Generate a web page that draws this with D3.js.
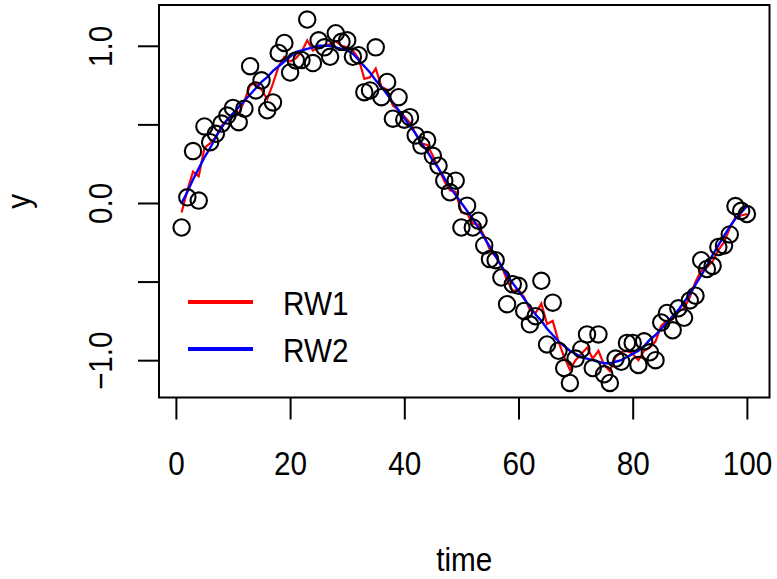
<!DOCTYPE html>
<html lang="en">
<head>
    <meta charset="UTF-8">
    <title>RW1 vs RW2 smoothing</title>
    <script src="https://d3js.org/d3.v7.min.js"></script>
    <style>
        body {
            margin: 0;
            padding: 0;
            background-color: white;
        }
        svg text {
            font-family: "Liberation Sans", Arial, Helvetica, sans-serif;
        }
    </style>
</head>
<body>
    <div id="chart"></div>
    <script>
        const width = 777;
        const height = 579;

        // observed values, time = 1..100
        const obs = [
            -0.156, 0.036, 0.33, 0.015, 0.487, 0.387, 0.44, 0.505, 0.556, 0.605,
            0.514, 0.60, 0.87, 0.716, 0.78, 0.59, 0.64, 0.954, 1.018, 0.83,
            0.907, 0.91, 1.167, 0.89, 1.035, 0.99, 0.93, 1.08, 1.025, 1.035,
            0.93, 0.94, 0.705, 0.716, 0.99, 0.673, 0.77, 0.536, 0.673, 0.53,
            0.546, 0.43, 0.365, 0.40, 0.30, 0.237, 0.142, 0.068, 0.142, -0.156,
            -0.017, -0.156, -0.113, -0.27, -0.357, -0.364, -0.474, -0.644, -0.517, -0.527,
            -0.687, -0.772, -0.72, -0.495, -0.90, -0.634, -0.94, -1.05, -1.145, -0.99,
            -0.93, -0.836, -1.05, -0.836, -1.09, -1.145, -0.99, -1.01, -0.89, -0.89,
            -1.03, -0.88, -0.95, -1.00, -0.76, -0.70, -0.81, -0.67, -0.73, -0.62,
            -0.59, -0.364, -0.42, -0.40, -0.28, -0.27, -0.20, -0.02, -0.05, -0.07
        ];

        // RW1 fit (red)
        const rw1 = [
            -0.06, 0.08, 0.20, 0.17, 0.35, 0.38, 0.42, 0.49, 0.53, 0.56,
            0.57, 0.65, 0.75, 0.76, 0.72, 0.66, 0.76, 0.87, 0.93, 0.90,
            0.92, 0.96, 1.035, 0.97, 0.99, 1.00, 1.01, 1.03, 1.00, 0.99,
            0.97, 0.92, 0.79, 0.80, 0.855, 0.74, 0.72, 0.62, 0.59, 0.55,
            0.51, 0.44, 0.38, 0.37, 0.30, 0.22, 0.14, 0.08, 0.07, -0.06,
            -0.07, -0.13, -0.14, -0.21, -0.30, -0.34, -0.40, -0.49, -0.56, -0.55,
            -0.60, -0.68, -0.70, -0.64, -0.77, -0.75, -0.88, -0.98, -1.06, -1.00,
            -0.96, -0.92, -0.99, -0.94, -1.03, -1.07, -0.98, -0.95, -0.94, -0.96,
            -1.00, -0.94, -0.92, -0.88, -0.78, -0.75, -0.74, -0.69, -0.67, -0.60,
            -0.50, -0.43, -0.41, -0.37, -0.30, -0.25, -0.16, -0.09, -0.08, -0.07
        ];

        // RW2 fit (blue)
        const rw2 = [
            0.00, 0.07, 0.15, 0.22, 0.29, 0.35, 0.42, 0.48, 0.53, 0.57,
            0.61, 0.65, 0.69, 0.73, 0.77, 0.80, 0.84, 0.87, 0.90, 0.93,
            0.96, 0.97, 0.98, 0.99, 1.00, 1.00, 1.00, 0.99, 0.98, 0.97,
            0.95, 0.91, 0.87, 0.83, 0.78, 0.74, 0.69, 0.64, 0.59, 0.54,
            0.49, 0.44, 0.38, 0.33, 0.27, 0.22, 0.16, 0.10, 0.05, 0.00,
            -0.05, -0.10, -0.16, -0.22, -0.28, -0.34, -0.40, -0.46, -0.51, -0.56,
            -0.61, -0.66, -0.71, -0.75, -0.80, -0.84, -0.88, -0.91, -0.94, -0.96,
            -0.98, -0.99, -1.00, -1.01, -1.02, -1.02, -1.01, -1.00, -0.98, -0.96,
            -0.94, -0.91, -0.87, -0.84, -0.80, -0.76, -0.72, -0.68, -0.63, -0.58,
            -0.52, -0.46, -0.40, -0.33, -0.27, -0.21, -0.15, -0.10, -0.06, -0.02
        ];

        const time = obs.map((d, i) => i + 1);
        const xTicks = [0, 20, 40, 60, 80, 100];
        const yTicks = [-1, -0.5, 0, 0.5, 1];
        const legendLabels = ["RW1", "RW2"];
        const legendColors = ["#ff0000", "#0000ff"];

        // plot region (like R's par("plt"))
        const plot = { left: 159, right: 769.5, top: 5, bottom: 397.5 };
        const fontSize = 33;
        const squeeze = "scale(0.9,1)"; // R's Helvetica looks narrower

        // R style 4% range extension
        const pad = (ext) => {
            const r = ext[1] - ext[0];
            return [ext[0] - 0.04 * r, ext[1] + 0.04 * r];
        };

        const x = d3.scaleLinear()
            .domain(pad(d3.extent(time)))
            .range([plot.left, plot.right]);

        const y = d3.scaleLinear()
            .domain(pad(d3.extent(obs)))
            .range([plot.bottom, plot.top]);

        const svg = d3.select("#chart")
            .append("svg")
            .attr("width", width)
            .attr("height", height);

        // fitted lines
        const line = d3.line()
            .x((d, i) => x(time[i]))
            .y(d => y(d));

        svg.append("path")
            .datum(rw1)
            .attr("fill", "none")
            .attr("stroke", legendColors[0])
            .attr("stroke-width", 2.2)
            .attr("d", line);

        svg.append("path")
            .datum(rw2)
            .attr("fill", "none")
            .attr("stroke", legendColors[1])
            .attr("stroke-width", 2.4)
            .attr("d", line);

        // points
        svg.append("g")
            .selectAll("circle")
            .data(obs)
            .join("circle")
            .attr("cx", (d, i) => x(time[i]))
            .attr("cy", d => y(d))
            .attr("r", 8.2)
            .attr("fill", "none")
            .attr("stroke", "black")
            .attr("stroke-width", 2.1);

        // axes
        const xAxis = svg.append("g")
            .attr("transform", `translate(0,${plot.bottom})`)
            .call(d3.axisBottom(x).tickValues(xTicks).tickSize(22)
                .tickFormat(d3.format("d")));

        const yAxis = svg.append("g")
            .attr("transform", `translate(${plot.left},0)`)
            .call(d3.axisLeft(y).tickValues(yTicks).tickSize(21)
                .tickFormat(d => d === 0.5 || d === -0.5 ? "" : (d < 0 ? "\u2212" : "") + Math.abs(d).toFixed(1)));

        [xAxis, yAxis].forEach(a => {
            a.select(".domain").remove();
            a.selectAll(".tick line").attr("stroke", "black").attr("stroke-width", 2);
            a.selectAll(".tick text")
                .attr("fill", "black")
                .attr("x", null)
                .attr("y", null)
                .attr("dy", null)
                .attr("text-anchor", "middle")
                .style("font-size", fontSize + "px");
        });

        xAxis.selectAll(".tick text").attr("transform", `translate(0,77) ${squeeze}`);

        yAxis.selectAll(".tick text")
            .attr("transform", `translate(-47,0) rotate(-90) ${squeeze}`);

        // box
        svg.append("rect")
            .attr("x", plot.left)
            .attr("y", plot.top)
            .attr("width", plot.right - plot.left)
            .attr("height", plot.bottom - plot.top)
            .attr("fill", "none")
            .attr("stroke", "black")
            .attr("stroke-width", 2);

        // axis titles
        svg.append("text")
            .attr("transform", `translate(${(plot.left + plot.right) / 2},571) ${squeeze}`)
            .attr("text-anchor", "middle")
            .style("font-size", fontSize + "px")
            .text("time");

        svg.append("text")
            .attr("transform", `translate(30,${(plot.top + plot.bottom) / 2}) rotate(-90) ${squeeze}`)
            .attr("text-anchor", "middle")
            .style("font-size", fontSize + "px")
            .text("y");

        // legend
        const legend = svg.append("g")
            .selectAll("g")
            .data(legendLabels)
            .join("g")
            .attr("transform", (d, i) => `translate(188,${302 + i * 47})`);

        legend.append("line")
            .attr("x1", 0)
            .attr("x2", 65)
            .attr("stroke", (d, i) => legendColors[i])
            .attr("stroke-width", 3.8);

        legend.append("text")
            .attr("transform", `translate(95,13) ${squeeze}`)
            .style("font-size", fontSize + "px")
            .text(d => d);
    </script>
</body>
</html>
